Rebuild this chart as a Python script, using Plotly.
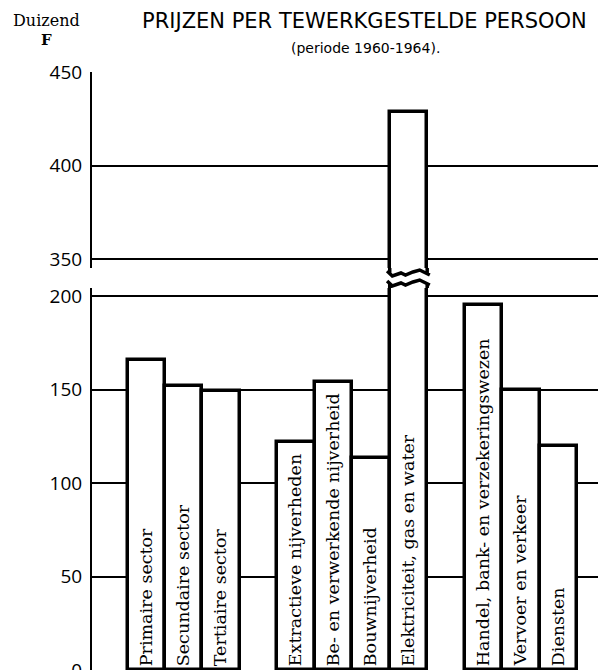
import plotly.graph_objects as go

# ---- data ----
categories = [
    "Primaire sector", "Secundaire sector", "Tertiaire sector",
    "Extractieve nijverheden", "Be- en verwerkende nijverheid", "Bouwnijverheid",
    "Elektriciteit, gas en water",
    "Handel, bank- en verzekeringswezen", "Vervoer en verkeer", "Diensten",
]
values = [166, 152, 149, 122, 154, 113.5, 429, 195, 150, 120]
groups = [0, 0, 0, 1, 1, 1, 1, 2, 2, 2]
lower_ticks = [0, 50, 100, 150, 200]
upper_ticks = [350, 400, 450]
title = "PRIJZEN PER TEWERKGESTELDE PERSOON"
subtitle = "(periode 1960-1964)."
unit_line1 = "Duizend"
unit_line2 = "<b>F</b>"

# ---- layout constants (page pixels; page body has an 8px margin) ----
OFF = 8
PAGE_W, PAGE_H = 606, 670
W, H = PAGE_W - OFF, PAGE_H - OFF
ML, MR, MT, MB = 92 - OFF, 0, 72 - OFF, 0
plot_h = H - MT - MB
plot_w = W - ML - MR
upper_bottom_px = 268 - OFF
lower_top_px = 288 - OFF
px_per_unit = 1.87
bar_px = 37.46
first_bar_left = 127.5 - OFF
upper_range = [450 - (upper_bottom_px - MT) / px_per_unit, 450.3]
lower_range = [0, (H - lower_top_px) / px_per_unit]


def py2paper(page_y):
    return (H - MB - (page_y - OFF)) / plot_h


def px2paper(page_x):
    return ((page_x - OFF) - ML) / plot_w


def fy2paper(fig_y):
    return (H - MB - fig_y) / plot_h


positions = [i + g for i, g in enumerate(groups)]
lower_max = lower_range[1]
brk_pos = [p for p, v in zip(positions, values) if v > lower_max]
brk_val = [v for v in values if v > lower_max]

bar_line = dict(color="black", width=3.5)

fig = go.Figure()
fig.add_trace(go.Bar(
    x=positions, y=values, width=1,
    marker=dict(color="white", line=bar_line),
    text=categories, textposition="inside", insidetextanchor="start",
    textangle=-90, constraintext="none",
    textfont=dict(family="DejaVu Serif", size=17.5, color="black"),
    xaxis="x2", yaxis="y2", showlegend=False, hoverinfo="skip",
))
fig.add_trace(go.Bar(
    x=brk_pos, y=brk_val, width=1,
    marker=dict(color="white", line=bar_line),
    xaxis="x", yaxis="y", showlegend=False, hoverinfo="skip",
))

# break marks (zigzag) on bars that exceed the lower panel
zig = [(-0.07, -2), (0.07, 3), (0.3, 0), (0.42, 2), (0.62, -1), (0.8, -3), (1.07, 2)]
ub = fy2paper(upper_bottom_px)
lt = fy2paper(lower_top_px)
shapes = []
for p in brk_pos:
    x0 = p - 0.5
    for base_px, edge in ((upper_bottom_px + 5, ub), (lower_top_px - 5, lt)):
        pts = [(x0 + fx, fy2paper(base_px + dy)) for fx, dy in zig]
        ye = fy2paper(base_px + 0.5)
        path = f"M{x0},{edge} L{x0},{ye} M{x0 + 1},{edge} L{x0 + 1},{ye} "
        path += "M" + " L".join(f"{x},{y}" for x, y in pts)
        shapes.append(dict(type="path", path=path, xref="x", yref="paper",
                           line=dict(color="black", width=3.5), layer="above"))

x_left = -0.5 - (first_bar_left - ML) / bar_px
x_range = [x_left, x_left + plot_w / bar_px]

axis_common = dict(
    showgrid=True, gridcolor="black", gridwidth=1.5,
    showline=True, linecolor="black", linewidth=2,
    ticks="", zeroline=False, ticklabelstandoff=4,
    ticklabeloverflow="allow", automargin=False,
    tickfont=dict(family="Open Sans", size=19, color="black"),
)

fig.update_layout(
    width=W, height=H,
    margin=dict(l=ML, r=MR, t=MT, b=MB, pad=0, autoexpand=False),
    paper_bgcolor="white", plot_bgcolor="white",
    bargap=0,
    xaxis=dict(domain=[0, 1], anchor="y", range=x_range, visible=False, automargin=False),
    xaxis2=dict(domain=[0, 1], anchor="y2", range=x_range, visible=False, matches="x",
                automargin=False),
    yaxis=dict(domain=[ub, 1], range=upper_range, tickvals=upper_ticks, **axis_common),
    yaxis2=dict(domain=[0, lt], range=lower_range, tickvals=lower_ticks, **axis_common),
    shapes=shapes,
    annotations=[
        dict(text=title, x=px2paper(364), y=py2paper(OFF), xref="paper", yref="paper",
             showarrow=False, xanchor="center", yanchor="top", borderpad=0,
             font=dict(family="DejaVu Sans", size=21, color="black")),
        dict(text=subtitle, x=px2paper(365), y=py2paper(48), xref="paper", yref="paper",
             showarrow=False, xanchor="center", yanchor="middle",
             font=dict(family="DejaVu Sans", size=14, color="black")),
        dict(text=unit_line1, x=px2paper(46), y=py2paper(20), xref="paper", yref="paper",
             showarrow=False, xanchor="center", yanchor="middle", borderpad=0,
             font=dict(family="DejaVu Serif", size=16, color="black")),
        dict(text=unit_line2, x=px2paper(46), y=py2paper(40), xref="paper", yref="paper",
             showarrow=False, xanchor="center", yanchor="middle", borderpad=0,
             font=dict(family="DejaVu Serif", size=15, color="black")),
    ],
)

fig.write_html("out.html")
